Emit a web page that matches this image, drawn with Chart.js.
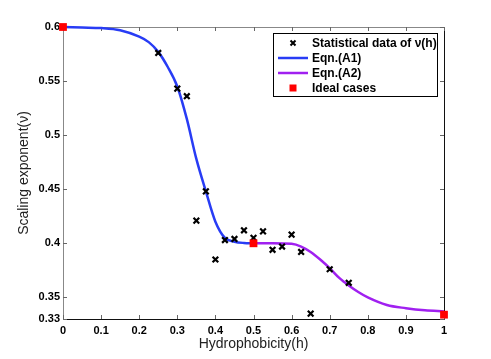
<!DOCTYPE html>
<html>
<head>
<meta charset="utf-8">
<script src="https://cdn.jsdelivr.net/npm/chart.js@4/dist/chart.umd.min.js"></script>
<style>
  html, body { margin: 0; padding: 0; background: #fff; }
  #wrap { width: 491px; height: 359px; }
</style>
</head>
<body>
<div id="wrap"><canvas id="chartNu"></canvas></div>
<script>
  // tick labels
  var xTicks = [0, 0.1, 0.2, 0.3, 0.4, 0.5, 0.6, 0.7, 0.8, 0.9, 1];
  var yTicks = [0.33, 0.35, 0.4, 0.45, 0.5, 0.55, 0.6];

  // statistical data of nu(h)
  var statH  = [0.25, 0.3, 0.325, 0.35, 0.375, 0.4, 0.425, 0.45, 0.475, 0.5, 0.525, 0.55, 0.575, 0.6, 0.625, 0.65, 0.7, 0.75];
  var statNu = [0.576, 0.543, 0.536, 0.421, 0.448, 0.385, 0.403, 0.404, 0.412, 0.405, 0.411, 0.394, 0.397, 0.408, 0.392, 0.335, 0.376, 0.3635];

  // Eqn.(A1)
  var a1H  = [0, 0.05, 0.1, 0.15, 0.2, 0.225, 0.25, 0.275, 0.3, 0.325, 0.35, 0.375, 0.4, 0.425, 0.45, 0.475, 0.5];
  var a1Nu = [0.6, 0.5995, 0.599, 0.597, 0.591, 0.586, 0.577, 0.563, 0.545, 0.515, 0.478, 0.448, 0.42, 0.405, 0.4015, 0.4003, 0.4];

  // Eqn.(A2)
  var a2H  = [0.5, 0.55, 0.6, 0.625, 0.65, 0.675, 0.7, 0.725, 0.75, 0.775, 0.8, 0.85, 0.9, 0.95, 1];
  var a2Nu = [0.4, 0.4, 0.3995, 0.397, 0.392, 0.385, 0.377, 0.368, 0.361, 0.355, 0.35, 0.343, 0.34, 0.338, 0.337];

  // ideal cases
  var idealH  = [0, 0.5, 1];
  var idealNu = [0.6, 0.4, 0.334];

  function pts(xs, ys) {
    return xs.map(function(x, i) { return { x: x, y: ys[i] }; });
  }

  var FONT = "'Liberation Sans', Arial, Helvetica, sans-serif";

  // box + inward ticks on all four sides
  var framePlugin = {
    id: "frame",
    beforeDatasetsDraw: function(chart) {
      var a = chart.chartArea, c = chart.ctx;
      var xs = chart.scales.x, ys = chart.scales.y;
      c.save();
      c.lineWidth = 1;
      c.strokeStyle = "#888";
      c.beginPath();
      c.moveTo(a.left + 0.5, a.bottom); c.lineTo(a.left + 0.5, a.top + 0.5); c.lineTo(a.right, a.top + 0.5);
      c.stroke();
      c.strokeStyle = "#111";
      c.beginPath();
      c.moveTo(a.left, a.bottom + 0.5); c.lineTo(a.right + 0.5, a.bottom + 0.5); c.lineTo(a.right + 0.5, a.top);
      c.stroke();
      c.strokeStyle = "#666";
      xs.ticks.forEach(function(t) {
        var p = Math.round(xs.getPixelForValue(t.value)) + 0.5;
        c.beginPath(); c.moveTo(p, a.bottom); c.lineTo(p, a.bottom - 4); c.stroke();
        c.beginPath(); c.moveTo(p, a.top); c.lineTo(p, a.top + 4); c.stroke();
      });
      ys.ticks.forEach(function(t) {
        var p = Math.round(ys.getPixelForValue(t.value)) + 0.5;
        c.beginPath(); c.moveTo(a.left, p); c.lineTo(a.left + 4, p); c.stroke();
        c.beginPath(); c.moveTo(a.right, p); c.lineTo(a.right - 4, p); c.stroke();
      });
      c.restore();
    }
  };

  // boxed legend in the top right corner
  var legendPlugin = {
    id: "boxLegend",
    afterDraw: function(chart) {
      var c = chart.ctx, ds = chart.data.datasets;
      var bx = 273, by = 33, bw = 164, bh = 63;
      c.save();
      c.fillStyle = "#fff";
      c.fillRect(bx, by, bw, bh);
      c.strokeStyle = "#000";
      c.lineWidth = 1;
      c.strokeRect(bx + 0.5, by + 0.5, bw, bh);
      c.font = "bold 12px " + FONT;
      c.textBaseline = "middle";
      c.textAlign = "left";
      ds.forEach(function(d, i) {
        var yy = 43 + i * 15;
        var mx = 293;
        c.strokeStyle = d.borderColor;
        c.fillStyle = d.backgroundColor;
        if (d.showLine) {
          c.lineWidth = d.borderWidth;
          c.beginPath(); c.moveTo(278, yy); c.lineTo(308, yy); c.stroke();
        } else if (d.pointStyle === "rect") {
          c.fillRect(mx - 3.5, yy - 3.5, 7, 7);
        } else {
          c.lineWidth = 2;
          c.beginPath();
          c.moveTo(mx - 2.5, yy - 2.5); c.lineTo(mx + 2.5, yy + 2.5);
          c.moveTo(mx + 2.5, yy - 2.5); c.lineTo(mx - 2.5, yy + 2.5);
          c.stroke();
        }
        c.fillStyle = "#000";
        c.fillText(d.label, 312, yy + 0.5);
      });
      c.restore();
    }
  };

  var ctx = document.getElementById("chartNu").getContext("2d");

  var myChart = new Chart(ctx, {
    type: "scatter",
    data: {
      datasets: [{
        label: "Statistical data of \u03bd(h)",
        data: pts(statH, statNu),
        pointStyle: "crossRot",
        pointRadius: 4,
        borderWidth: 2.2,
        borderColor: "#000",
        backgroundColor: "#000",
        showLine: false,
        order: 1,
        clip: false
      }, {
        label: "Eqn.(A1)",
        data: pts(a1H, a1Nu),
        showLine: true,
        cubicInterpolationMode: "monotone",
        borderColor: "rgb(40,60,245)",
        backgroundColor: "rgb(40,60,245)",
        borderWidth: 2.5,
        pointRadius: 0,
        order: 3,
        clip: false
      }, {
        label: "Eqn.(A2)",
        data: pts(a2H, a2Nu),
        showLine: true,
        cubicInterpolationMode: "monotone",
        borderColor: "rgb(160,32,240)",
        backgroundColor: "rgb(160,32,240)",
        borderWidth: 2.5,
        pointRadius: 0,
        order: 2,
        clip: false
      }, {
        label: "Ideal cases",
        data: pts(idealH, idealNu),
        pointStyle: "rect",
        pointRadius: 5.5,
        borderWidth: 0,
        borderColor: "#f00",
        backgroundColor: "#f00",
        showLine: false,
        order: 0,
        clip: false
      }]
    },
    options: {
      responsive: true,
      maintainAspectRatio: false,
      animation: false,
      layout: { padding: { top: 27, right: 47, left: 0, bottom: 0 } },
      plugins: {
        legend: { display: false },
        tooltip: { enabled: false }
      },
      scales: {
        x: {
          type: "linear",
          min: 0,
          max: 1,
          afterBuildTicks: function(s) { s.ticks = xTicks.map(function(v) { return { value: v }; }); },
          afterFit: function(s) { s.height = 40; },
          grid: { display: false, drawTicks: false },
          border: { display: false },
          ticks: {
            color: "#000",
            padding: 5,
            maxRotation: 0,
            font: { family: FONT, size: 11, weight: "bold" },
            callback: function(v) { return String(v); }
          },
          title: {
            display: true,
            text: "Hydrophobicity(h)",
            color: "#222",
            padding: { top: 1, bottom: 6 },
            font: { family: FONT, size: 14 }
          }
        },
        y: {
          type: "linear",
          min: 0.33,
          max: 0.6,
          afterBuildTicks: function(s) { s.ticks = yTicks.map(function(v) { return { value: v }; }); },
          afterFit: function(s) { s.width = 63; },
          grid: { display: false, drawTicks: false },
          border: { display: false },
          ticks: {
            color: "#000",
            padding: 3,
            font: { family: FONT, size: 11, weight: "bold" },
            callback: function(v) { return String(v); }
          },
          title: {
            display: true,
            text: "Scaling exponent(\u03bd)",
            color: "#222",
            padding: { top: 16, bottom: 0 },
            font: { family: FONT, size: 14 }
          }
        }
      }
    },
    plugins: [framePlugin, legendPlugin]
  });
</script>
</body>
</html>
